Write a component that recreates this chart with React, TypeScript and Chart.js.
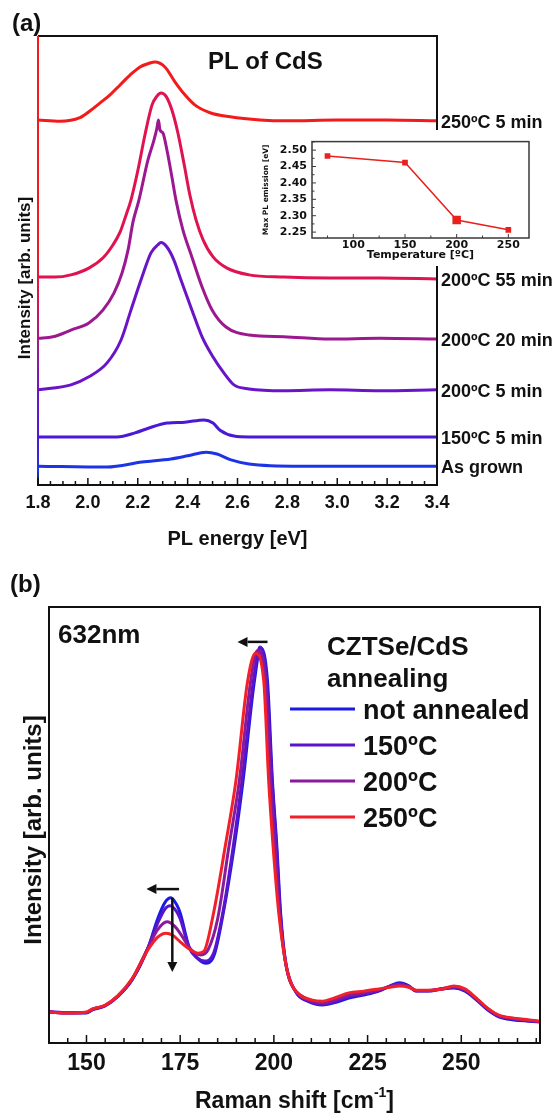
import React, { useEffect, useRef } from 'react';
import { Chart, registerables } from 'chart.js';

Chart.register(...registerables);

const SANS = '"Liberation Sans", Arial, Helvetica, sans-serif';
const WIDE = '"DejaVu Sans", "Liberation Sans", sans-serif';
const INK = '#111111';

// ---------------- Panel (a): PL of CdS ----------------
const plSeriesNames = ['250ºC 5 min', '200ºC 55 min', '200ºC 20 min', '200ºC 5 min', '150ºC 5 min', 'As grown'];
const plColors = ['#f21a1a', '#e01250', '#9c1890', '#6a14c8', '#4a18d6', '#1c34e6'];
const plTickValues = [1.8, 2.0, 2.2, 2.4, 2.6, 2.8, 3.0, 3.2, 3.4];

const pl250C5minEnergy = [1.8, 1.888, 1.968, 2.008, 2.049, 2.089, 2.129, 2.169, 2.209, 2.249, 2.269, 2.309, 2.349, 2.389, 2.43, 2.49, 2.57, 2.69, 2.8, 3.0, 3.2, 3.4];
const pl250C5minIntensity = [81.3, 81.0, 81.8, 83.3, 85.1, 86.9, 89.1, 91.3, 93.1, 94.0, 94.2, 93.1, 89.8, 86.9, 84.6, 82.9, 82.0, 81.3, 81.1, 81.3, 81.3, 81.1];

const pl200C55minEnergy = [1.8, 1.868, 1.932, 2.004, 2.061, 2.101, 2.129, 2.153, 2.173, 2.201, 2.229, 2.257, 2.277, 2.293, 2.313, 2.337, 2.361, 2.385, 2.409, 2.434, 2.462, 2.502, 2.558, 2.646, 2.786, 2.971, 3.171, 3.4];
const pl200C55minIntensity = [46.3, 46.3, 46.8, 48.3, 50.6, 53.5, 56.3, 60.1, 63.5, 70.2, 78.0, 84.6, 86.6, 87.3, 86.6, 83.5, 78.4, 71.7, 64.6, 59.0, 54.6, 50.8, 48.3, 46.8, 46.3, 46.1, 46.1, 45.9];

const pl200C20minEnergy = [1.8, 1.86, 1.932, 2.004, 2.061, 2.105, 2.137, 2.161, 2.181, 2.205, 2.241, 2.265, 2.277, 2.283, 2.289, 2.301, 2.317, 2.337, 2.353, 2.381, 2.417, 2.458, 2.498, 2.554, 2.646, 2.786, 2.971, 3.171, 3.4];
const pl200C20minIntensity = [32.7, 33.0, 34.5, 36.1, 39.0, 42.8, 47.2, 52.3, 58.6, 63.5, 72.4, 76.8, 79.5, 81.3, 79.1, 78.4, 74.6, 68.6, 63.5, 56.8, 50.8, 44.1, 39.0, 35.2, 33.4, 33.0, 32.5, 32.7, 32.5];

const pl200C5minEnergy = [1.8, 1.932, 2.004, 2.077, 2.133, 2.173, 2.217, 2.253, 2.281, 2.293, 2.317, 2.345, 2.373, 2.417, 2.458, 2.502, 2.546, 2.586, 2.646, 2.786, 2.971, 3.171, 3.4];
const pl200C5minIntensity = [21.2, 22.3, 24.1, 27.2, 32.3, 39.0, 46.3, 51.7, 53.5, 54.0, 53.0, 50.1, 45.7, 39.0, 33.0, 28.5, 24.9, 22.3, 21.4, 21.0, 21.2, 21.0, 21.2];

const pl150C5minEnergy = [1.8, 1.968, 2.117, 2.189, 2.245, 2.317, 2.389, 2.466, 2.502, 2.53, 2.586, 2.646, 2.851, 3.051, 3.4];
const pl150C5minIntensity = [10.7, 10.7, 10.7, 11.6, 12.7, 13.8, 14.0, 14.5, 13.8, 12.2, 10.9, 10.7, 10.7, 10.7, 10.7];

const plAsGrownEnergy = [1.8, 2.077, 2.217, 2.333, 2.401, 2.474, 2.518, 2.574, 2.646, 2.851, 3.4];
const plAsGrownIntensity = [4.2, 4.0, 5.1, 5.8, 6.5, 7.3, 6.9, 5.6, 4.7, 4.2, 4.2];

const plEnergies = [pl250C5minEnergy, pl200C55minEnergy, pl200C20minEnergy, pl200C5minEnergy, pl150C5minEnergy, plAsGrownEnergy];
const plIntensities = [pl250C5minIntensity, pl200C55minIntensity, pl200C20minIntensity, pl200C5minIntensity, pl150C5minIntensity, plAsGrownIntensity];

// ---------------- Inset: max PL emission vs temperature ----------------
const insetTemperature = [75, 150, 200, 250];
const insetMaxPL = [2.482, 2.462, 2.287, 2.257];

// ---------------- Panel (b): Raman ----------------
const ramanSeriesNames = ['not annealed', '150ºC', '200ºC', '250ºC'];
const ramanColors = ['#1a1ae6', '#5a14cc', '#8a1a9c', '#f2202a'];

const ramanShiftNotAnnealed = [140, 145, 150, 151.6, 155, 158.3, 162.2, 166.5, 169, 171, 172.5, 174, 175, 177.4, 179.5, 181.7, 184, 186.5, 189.4, 191.8, 194.8, 196.5, 198.3, 199.6, 200.8, 201.8, 203.2, 206, 209, 213, 216, 220, 224, 228, 231, 233.5, 236, 238, 241, 245, 248, 251, 254, 257, 260, 264, 268, 271];
const ramanNotAnnealed = [7.1, 6.9, 6.9, 7.6, 8.5, 10.6, 14.5, 22.0, 28.5, 32.3, 33.3, 31.8, 29.8, 22.0, 19.5, 18.3, 20.0, 29.8, 45.0, 60.3, 83.0, 90.6, 83.0, 60.3, 45.0, 29.8, 18.3, 11.5, 9.6, 8.7, 9.2, 10.3, 11.0, 11.9, 13.1, 13.8, 13.1, 11.9, 11.9, 12.4, 12.6, 11.9, 9.9, 7.6, 6.0, 5.3, 5.0, 4.8];

const ramanShift150 = [140, 145, 150, 151.6, 155, 158.3, 162.2, 166.5, 169, 171, 172.3, 174, 175, 177.4, 179.5, 181.5, 184, 186.5, 189.3, 191.6, 194.6, 196.3, 198.1, 199.5, 200.7, 201.7, 203.1, 206, 209, 213, 216, 220, 224, 228, 231, 233.5, 236, 238, 241, 245, 248, 251, 254, 257, 260, 264, 268, 271];
const raman150 = [7.2, 7.0, 7.0, 7.7, 8.6, 10.7, 14.6, 22.0, 27.5, 30.8, 31.5, 30.2, 28.5, 21.8, 19.6, 18.8, 20.8, 30.5, 46.0, 61.0, 83.5, 90.8, 83.0, 60.3, 45.0, 29.8, 18.5, 11.6, 9.7, 8.9, 9.4, 10.6, 11.2, 12.0, 13.0, 13.6, 13.0, 12.0, 12.0, 12.5, 12.8, 12.1, 10.1, 7.8, 6.2, 5.5, 5.1, 4.9];

const ramanShift200 = [140, 145, 150, 151.6, 155, 158.3, 162.2, 166.5, 169, 171.5, 173.5, 175.5, 177.5, 180.5, 182.5, 185, 188, 190.8, 193.8, 195.6, 197.8, 199.1, 200.3, 201.5, 203, 205, 208, 213, 216, 220, 224, 228, 231, 233.5, 236, 238, 241, 245, 248, 251, 254, 257, 260, 264, 268, 271];
const raman200 = [7.1, 6.9, 7.0, 7.7, 8.6, 10.7, 14.7, 22.0, 26.0, 27.8, 26.8, 24.5, 21.8, 20.2, 21.5, 28.5, 45.0, 60.3, 83.0, 90.0, 83.0, 60.3, 45.0, 29.8, 19.0, 13.0, 10.5, 9.2, 9.8, 11.0, 11.5, 12.2, 13.0, 13.4, 12.9, 12.0, 12.0, 12.4, 12.9, 12.2, 10.2, 7.9, 6.3, 5.6, 5.2, 4.9];

const ramanShift250 = [140, 145, 150, 151.6, 155, 158.3, 162.2, 166.5, 169, 171.2, 173, 175, 177.5, 179.8, 181.3, 183.9, 187, 189.9, 193, 195.1, 197.3, 198.6, 199.8, 201.3, 202.8, 204.2, 207, 210, 213, 216, 220, 224, 228, 231, 233.5, 236, 238, 241, 245, 248, 251, 254, 257, 260, 264, 268, 271];
const raman250 = [7.1, 6.9, 7.1, 7.8, 8.7, 10.8, 14.8, 21.5, 24.3, 25.2, 24.7, 23.2, 21.5, 20.6, 21.0, 29.8, 45.0, 60.3, 83.0, 89.4, 83.0, 60.3, 45.0, 29.8, 20.0, 14.5, 11.0, 9.9, 9.6, 10.3, 11.5, 11.9, 12.4, 12.8, 13.1, 12.8, 12.1, 12.1, 12.4, 13.1, 12.4, 10.3, 8.0, 6.4, 5.7, 5.3, 5.0];

const ramanShifts = [ramanShiftNotAnnealed, ramanShift150, ramanShift200, ramanShift250];
const ramanIntensities = [ramanNotAnnealed, raman150, raman200, raman250];

// annotation arrows in data coordinates: [xFrom, yFrom, xTo, yTo]
const arrowMainPeakShift = [198.3, 92.0, 190.3, 92.0];
const arrowSmallPeakShift = [174.7, 35.3, 166.0, 35.3];
const arrowSmallPeakDrop = [172.9, 33.3, 172.9, 16.3];

function drawArrow(ctx: any, x1: number, y1: number, x2: number, y2: number) {
  const ang = Math.atan2(y2 - y1, x2 - x1);
  const head = 10;
  const hw = 5;
  const bx = x2 - head * Math.cos(ang);
  const by = y2 - head * Math.sin(ang);
  ctx.save();
  ctx.strokeStyle = INK;
  ctx.fillStyle = INK;
  ctx.lineWidth = 2.5;
  ctx.beginPath();
  ctx.moveTo(x1, y1);
  ctx.lineTo(bx, by);
  ctx.stroke();
  ctx.beginPath();
  ctx.moveTo(x2, y2);
  ctx.lineTo(bx + hw * Math.sin(ang), by - hw * Math.cos(ang));
  ctx.lineTo(bx - hw * Math.sin(ang), by + hw * Math.cos(ang));
  ctx.closePath();
  ctx.fill();
  ctx.restore();
}

const panelAPlugin = {
  id: 'panelADecor',
  afterDraw(chart: any) {
    const { ctx, chartArea, scales } = chart;
    const { left, right, top, bottom } = chartArea;
    const x = scales.x;
    const y = scales.y;
    ctx.save();
    // frame
    ctx.lineWidth = 2;
    ctx.strokeStyle = INK;
    ctx.beginPath();
    ctx.moveTo(left, top);
    ctx.lineTo(right, top);
    ctx.lineTo(right, bottom);
    ctx.lineTo(left, bottom);
    ctx.stroke();
    // left axis tinted by the spectra
    const g = ctx.createLinearGradient(0, top, 0, bottom);
    g.addColorStop(0, plColors[0]);
    g.addColorStop(0.45, plColors[0]);
    g.addColorStop(0.58, plColors[1]);
    g.addColorStop(0.7, plColors[2]);
    g.addColorStop(0.8, plColors[3]);
    g.addColorStop(0.9, plColors[4]);
    g.addColorStop(0.97, plColors[5]);
    g.addColorStop(1, INK);
    ctx.strokeStyle = g;
    ctx.beginPath();
    ctx.moveTo(left, top);
    ctx.lineTo(left, bottom + 1);
    ctx.stroke();
    // inward ticks
    ctx.strokeStyle = INK;
    ctx.lineWidth = 1.5;
    ctx.beginPath();
    const steps = Math.round((x.max - x.min) / 0.05);
    for (let k = 0; k <= steps; k++) {
      const v = x.min + k * 0.05;
      const px = x.getPixelForValue(v);
      const major = k % 4 === 0;
      ctx.moveTo(px, bottom);
      ctx.lineTo(px, bottom - (major ? 7 : 4));
    }
    ctx.stroke();
    // series labels on the right
    ctx.fillStyle = INK;
    ctx.font = `bold 18px ${SANS}`;
    ctx.textAlign = 'left';
    ctx.textBaseline = 'middle';
    plSeriesNames.forEach((name, i) => {
      const arr = plIntensities[i];
      const py = y.getPixelForValue(arr[arr.length - 1]) + 2;
      ctx.fillText(name, right + 4, py);
    });
    // titles
    ctx.textBaseline = 'alphabetic';
    ctx.font = `bold 24px ${SANS}`;
    ctx.fillText('PL of CdS', 208, 69);
    ctx.font = `bold 24px ${SANS}`;
    ctx.fillText('(a)', 12, 31);
    // y title
    ctx.save();
    ctx.translate(25, 278);
    ctx.rotate(-Math.PI / 2);
    ctx.textAlign = 'center';
    ctx.textBaseline = 'middle';
    ctx.font = `bold 17px ${SANS}`;
    ctx.fillText('Intensity [arb. units]', 0, 0);
    ctx.restore();
    ctx.restore();
  },
};

const panelBPlugin = {
  id: 'panelBDecor',
  afterDraw(chart: any) {
    const { ctx, chartArea, scales } = chart;
    const { left, right, top, bottom } = chartArea;
    const x = scales.x;
    const y = scales.y;
    ctx.save();
    ctx.lineWidth = 2;
    ctx.strokeStyle = INK;
    ctx.strokeRect(left, top, right - left, bottom - top);
    // inward ticks
    ctx.lineWidth = 1.5;
    ctx.beginPath();
    for (let v = 145; v <= x.max; v += 5) {
      const px = x.getPixelForValue(v);
      const major = v % 25 === 0;
      ctx.moveTo(px, bottom);
      ctx.lineTo(px, bottom - (major ? 8 : 5));
    }
    ctx.stroke();
    // arrows
    [arrowMainPeakShift, arrowSmallPeakShift, arrowSmallPeakDrop].forEach((a) => {
      drawArrow(ctx, x.getPixelForValue(a[0]), y.getPixelForValue(a[1]), x.getPixelForValue(a[2]), y.getPixelForValue(a[3]));
    });
    // texts
    ctx.fillStyle = INK;
    ctx.textAlign = 'left';
    ctx.textBaseline = 'alphabetic';
    ctx.font = `bold 24px ${SANS}`;
    ctx.fillText('(b)', 10, 32);
    ctx.font = `bold 26px ${SANS}`;
    ctx.fillText('632nm', 58, 83);
    ctx.font = `bold 26px ${SANS}`;
    ctx.fillText('CZTSe/CdS', 327, 95);
    ctx.fillText('annealing', 327, 127);
    // legend
    const rows = [149, 185, 221, 257];
    ramanSeriesNames.forEach((name, i) => {
      ctx.strokeStyle = ramanColors[i];
      ctx.lineWidth = 3;
      ctx.beginPath();
      ctx.moveTo(290, rows[i]);
      ctx.lineTo(355, rows[i]);
      ctx.stroke();
      ctx.fillStyle = INK;
      ctx.font = `bold 27px ${SANS}`;
      ctx.fillText(name, 363, rows[i] + 10);
    });
    // y title
    ctx.save();
    ctx.translate(34, 270);
    ctx.rotate(-Math.PI / 2);
    ctx.textAlign = 'center';
    ctx.textBaseline = 'middle';
    ctx.font = `bold 24px ${SANS}`;
    ctx.fillText('Intensity [arb. units]', 0, 0);
    ctx.restore();
    // x title with superscript
    const main = 'Raman shift [cm';
    const sup = '-1';
    const close = ']';
    ctx.font = `bold 23px ${SANS}`;
    const wMain = ctx.measureText(main).width;
    const wClose = ctx.measureText(close).width;
    ctx.font = `bold 14px ${SANS}`;
    const wSup = ctx.measureText(sup).width;
    const total = wMain + wSup + wClose;
    const cx = (left + right) / 2;
    let tx = cx - total / 2;
    const base = 548;
    ctx.font = `bold 23px ${SANS}`;
    ctx.fillText(main, tx, base);
    tx += wMain;
    ctx.font = `bold 14px ${SANS}`;
    ctx.fillText(sup, tx, base - 11);
    tx += wSup;
    ctx.font = `bold 23px ${SANS}`;
    ctx.fillText(close, tx, base);
    ctx.restore();
  },
};

const insetPlugin = {
  id: 'insetDecor',
  afterDraw(chart: any) {
    const { ctx, chartArea, scales } = chart;
    const { left, right, top, bottom } = chartArea;
    const x = scales.x;
    const y = scales.y;
    ctx.save();
    ctx.strokeStyle = '#3a3a3a';
    ctx.lineWidth = 1.5;
    ctx.strokeRect(left, top, right - left, bottom - top);
    ctx.lineWidth = 1;
    ctx.beginPath();
    for (let v = 75; v <= x.max; v += 25) {
      const px = x.getPixelForValue(v);
      const major = v % 50 === 0;
      ctx.moveTo(px, bottom);
      ctx.lineTo(px, bottom - (major ? 4 : 2.5));
    }
    for (let k = 0; k <= 12; k++) {
      const v = 2.225 + k * 0.025;
      if (v < y.min || v > y.max) continue;
      const py = y.getPixelForValue(v);
      const major = k % 2 === 1;
      ctx.moveTo(left, py);
      ctx.lineTo(left + (major ? 4 : 2.5), py);
    }
    ctx.stroke();
    ctx.restore();
  },
};

export default function App() {
  const aRef = useRef<HTMLCanvasElement>(null);
  const bRef = useRef<HTMLCanvasElement>(null);
  const cRef = useRef<HTMLCanvasElement>(null);

  useEffect(() => {
    const charts: any[] = [];

    // Panel (a)
    const plDatasets = plSeriesNames.map((name, i) => ({
      label: name,
      data: plEnergies[i].map((e, k) => ({ x: e, y: plIntensities[i][k] })),
      borderColor: plColors[i],
      borderWidth: 3,
      pointRadius: 0,
      fill: false,
      cubicInterpolationMode: 'monotone' as const,
    }));
    charts.push(
      new Chart(aRef.current as HTMLCanvasElement, {
        type: 'line',
        data: { datasets: plDatasets },
        options: {
          responsive: false,
          animation: false,
          devicePixelRatio: 1,
          layout: { padding: { left: 38, right: 120, top: 36, bottom: 0 } },
          plugins: { legend: { display: false }, tooltip: { enabled: false } },
          scales: {
            x: {
              type: 'linear',
              min: 1.8,
              max: 3.4,
              afterFit: (s: any) => { s.height = 75; },
              afterBuildTicks: (s: any) => { s.ticks = plTickValues.map((v) => ({ value: v })); },
              grid: { display: false, drawTicks: false },
              border: { display: false },
              ticks: {
                padding: 7,
                maxRotation: 0,
                autoSkip: false,
                color: INK,
                font: { family: SANS, size: 18, weight: 'bold' },
                callback: (v: any) => Number(v).toFixed(1),
              },
              title: {
                display: true,
                text: 'PL energy [eV]',
                color: INK,
                font: { family: SANS, size: 20, weight: 'bold' },
                padding: { top: 0, bottom: 9 },
              },
            },
            y: { type: 'linear', min: 0, max: 100, display: false },
          },
        } as any,
        plugins: [panelAPlugin],
      })
    );

    // Panel (b)
    const ramanDatasets = ramanSeriesNames.map((name, i) => ({
      label: name,
      data: ramanShifts[i].map((s, k) => ({ x: s, y: ramanIntensities[i][k] })),
      borderColor: ramanColors[i],
      borderWidth: 3,
      pointRadius: 0,
      fill: false,
      order: 3 - i,
      cubicInterpolationMode: 'monotone' as const,
    }));
    charts.push(
      new Chart(bRef.current as HTMLCanvasElement, {
        type: 'line',
        data: { datasets: ramanDatasets },
        options: {
          responsive: false,
          animation: false,
          devicePixelRatio: 1,
          layout: { padding: { left: 49, right: 17, top: 47, bottom: 0 } },
          plugins: { legend: { display: false }, tooltip: { enabled: false } },
          scales: {
            x: {
              type: 'linear',
              min: 140,
              max: 271,
              afterFit: (s: any) => { s.height = 72; },
              grid: { display: false, drawTicks: false },
              border: { display: false },
              ticks: {
                stepSize: 25,
                includeBounds: false,
                padding: 7,
                maxRotation: 0,
                autoSkip: false,
                color: INK,
                font: { family: SANS, size: 23, weight: 'bold' },
              },
            },
            y: { type: 'linear', min: 0, max: 100, display: false },
          },
        } as any,
        plugins: [panelBPlugin],
      })
    );

    // Inset
    charts.push(
      new Chart(cRef.current as HTMLCanvasElement, {
        type: 'line',
        data: {
          datasets: [
            {
              label: 'Max PL emission',
              data: insetTemperature.map((t, k) => ({ x: t, y: insetMaxPL[k] })),
              borderColor: '#e8201e',
              backgroundColor: '#e8201e',
              borderWidth: 1.5,
              pointStyle: 'rect',
              pointRadius: [4, 4, 6, 4],
              pointBorderWidth: 0,
              fill: false,
              tension: 0,
            },
          ],
        },
        options: {
          responsive: false,
          animation: false,
          devicePixelRatio: 1,
          layout: { padding: { left: 0, right: 16, top: 5, bottom: 0 } },
          plugins: { legend: { display: false }, tooltip: { enabled: false } },
          scales: {
            x: {
              type: 'linear',
              min: 60,
              max: 270,
              afterFit: (s: any) => { s.height = 28; },
              grid: { display: false, drawTicks: false },
              border: { display: false },
              ticks: {
                stepSize: 50,
                includeBounds: false,
                padding: 1,
                maxRotation: 0,
                autoSkip: false,
                color: INK,
                font: { family: WIDE, size: 11, weight: 'bold' },
              },
              title: {
                display: true,
                text: 'Temperature [ºC]',
                color: INK,
                font: { family: WIDE, size: 11, weight: 'bold' },
                padding: { top: 0, bottom: 4 },
              },
            },
            y: {
              type: 'linear',
              min: 2.232,
              max: 2.526,
              afterFit: (s: any) => { s.width = 54; },
              grid: { display: false, drawTicks: false },
              border: { display: false },
              ticks: {
                stepSize: 0.05,
                includeBounds: false,
                padding: 5,
                autoSkip: false,
                color: INK,
                font: { family: WIDE, size: 11, weight: 'bold' },
                callback: (v: any) => Number(v).toFixed(2),
              },
              title: {
                display: true,
                text: 'Max PL emission [eV]',
                color: INK,
                font: { family: WIDE, size: 7.5, weight: 'bold' },
                padding: { top: 4, bottom: 0 },
              },
            },
          },
        } as any,
        plugins: [insetPlugin],
      })
    );

    return () => charts.forEach((c) => c.destroy());
  }, []);

  return (
    <div style={{ position: 'absolute', left: 0, top: 0, width: 557, height: 1115, background: '#ffffff' }}>
      <canvas ref={aRef} width={557} height={560} style={{ position: 'absolute', left: 0, top: 0 }} />
      <canvas ref={bRef} width={557} height={555} style={{ position: 'absolute', left: 0, top: 560 }} />
      <canvas ref={cRef} width={287} height={136} style={{ position: 'absolute', left: 258, top: 130, background: '#ffffff' }} />
    </div>
  );
}
